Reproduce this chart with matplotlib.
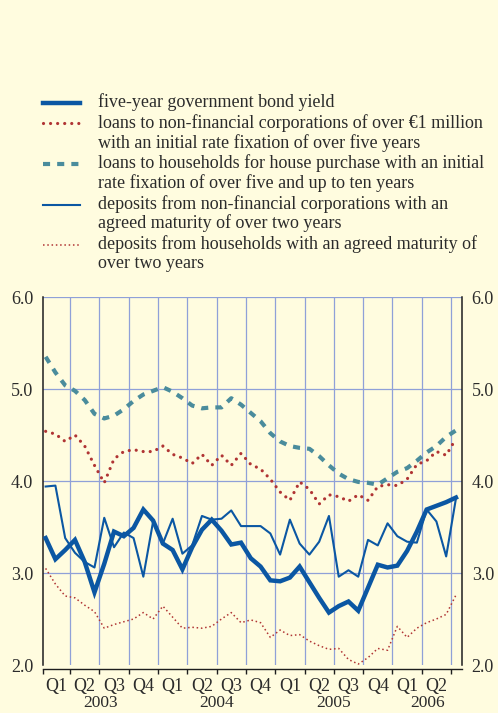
import numpy as np
import matplotlib.pyplot as plt
from matplotlib.transforms import blended_transform_factory

plt.rcParams['font.family'] = ['Liberation Serif', 'DejaVu Serif']
plt.rcParams['font.size'] = 13
plt.rcParams['text.color'] = '#2b2b2b'

# Monatswerte Jan 2003 .. Jul 2006
bond_yield = [3.38, 3.15, 3.25, 3.36, 3.12, 2.79, 3.10, 3.45, 3.40, 3.49, 3.69, 3.57,
              3.32, 3.25, 3.04, 3.28, 3.47, 3.58, 3.46, 3.31, 3.33, 3.16, 3.07, 2.92,
              2.91, 2.95, 3.07, 2.90, 2.73, 2.57, 2.64, 2.69, 2.59, 2.84, 3.09, 3.06,
              3.08, 3.24, 3.45, 3.69, 3.73, 3.77, 3.82]
loans_nfc = [4.54, 4.51, 4.43, 4.50, 4.38, 4.17, 3.98, 4.24, 4.32, 4.34, 4.32, 4.32,
             4.38, 4.29, 4.25, 4.19, 4.29, 4.17, 4.28, 4.17, 4.30, 4.18, 4.13, 4.02,
             3.88, 3.79, 3.99, 3.91, 3.75, 3.85, 3.83, 3.78, 3.85, 3.79, 3.94, 3.96,
             3.95, 4.02, 4.18, 4.22, 4.32, 4.28, 4.46]
loans_hh = [5.35, 5.18, 5.04, 4.98, 4.88, 4.73, 4.68, 4.71, 4.78, 4.87, 4.94, 4.98,
            5.02, 4.97, 4.90, 4.82, 4.79, 4.80, 4.80, 4.90, 4.83, 4.74, 4.65, 4.52,
            4.43, 4.38, 4.36, 4.35, 4.27, 4.17, 4.08, 4.02, 3.99, 3.98, 3.96, 4.03,
            4.10, 4.14, 4.22, 4.31, 4.38, 4.48, 4.55]
deposits_nfc = [3.94, 3.95, 3.38, 3.22, 3.12, 3.06, 3.60, 3.28, 3.44, 3.38, 2.96, 3.56,
                3.32, 3.59, 3.21, 3.30, 3.62, 3.58, 3.59, 3.68, 3.51, 3.51, 3.51, 3.43,
                3.20, 3.58, 3.32, 3.20, 3.34, 3.62, 2.96, 3.03, 2.96, 3.36, 3.30, 3.54,
                3.40, 3.34, 3.33, 3.69, 3.56, 3.18, 3.81]
deposits_hh = [3.05, 2.88, 2.75, 2.73, 2.65, 2.58, 2.40, 2.44, 2.47, 2.50, 2.57, 2.50,
               2.64, 2.52, 2.40, 2.41, 2.40, 2.42, 2.50, 2.57, 2.46, 2.49, 2.46, 2.30,
               2.38, 2.32, 2.33, 2.26, 2.21, 2.17, 2.18, 2.06, 2.01, 2.08, 2.18, 2.16,
               2.42, 2.30, 2.40, 2.46, 2.50, 2.55, 2.76]

years = ['2003', '2004', '2005', '2006']
quarters = ['Q1', 'Q2', 'Q3', 'Q4']
y_ticks = [2.0, 3.0, 4.0, 5.0, 6.0]

legend_texts = [
    ["five-year government bond yield"],
    ["loans to non-financial corporations of over €1 million",
     "with an initial rate fixation of over five years"],
    ["loans to households for house purchase with an initial",
     "rate fixation of over five and up to ten years"],
    ["deposits from non-financial corporations with an",
     "agreed maturity of over two years"],
    ["deposits from households with an agreed maturity of",
     "over two years"],
]

bg = '#fffcdf'
blue = '#0b57a3'
red = '#b03434'
teal = '#4a8c9c'
grid_c = '#8fa0d8'
dark = '#1e1e1e'

styles = [
    dict(color=blue, lw=3.2, ls='-', solid_joinstyle='miter'),
    dict(color=red, lw=2.3, ls=(0, (0.01, 2.2)), dash_capstyle='round'),
    dict(color=teal, lw=3.0, ls=(0, (1.7, 1.7)), dash_capstyle='butt'),
    dict(color=blue, lw=1.5, ls='-'),
    dict(color=red, lw=1.1, ls=(0, (1, 1.8)), dash_capstyle='butt'),
]

fig = plt.figure(figsize=(4.98, 7.13), dpi=100, facecolor=bg)
W, H = 498, 713
ax = fig.add_axes([43 / W, 48 / H, (462 - 43) / W, (665 - 297) / H])
ax.set_facecolor(bg)

x = np.arange(len(bond_yield))
x0, x1 = -0.27, 42.62
ax.set_xlim(x0, x1)
ax.set_ylim(2.0, 6.0)

# Gitter
bounds = np.arange(2.5, 42, 3)
for b in bounds:
    ax.axvline(b, color=grid_c, lw=0.9, zorder=1)
for yv in y_ticks[1:]:
    ax.axhline(yv, color=grid_c, lw=0.9, zorder=1)

series = [bond_yield, loans_nfc, loans_hh, deposits_nfc, deposits_hh]
zorders = [6, 4, 3, 5, 2]
for s, st, z in zip(series, styles, zorders):
    ax.plot(x, s, zorder=z, **st)

# Achsen
for side in ['left', 'right']:
    ax.spines[side].set_color(dark)
    ax.spines[side].set_linewidth(1.1)
ax.spines['top'].set_visible(False)
ax.spines['bottom'].set_position(('outward', 3))
ax.spines['bottom'].set_color(dark)
ax.spines['bottom'].set_linewidth(1.0)

ax.set_yticks(y_ticks)
ax.set_yticklabels([f'{v:.1f}' for v in y_ticks])
ax.tick_params(axis='y', length=0, pad=7, labelright=True, labelcolor='#2b2b2b')

ax.set_xticks([x0] + list(bounds))
ax.set_xticklabels([])
ax.tick_params(axis='x', which='major', direction='out', length=3.5, width=1.0, color=dark)

q_pos, q_lab = [], []
for k in range(len(years) * 4):
    a, b = -0.5 + 3 * k, 2.5 + 3 * k
    lo, hi = max(a, x0), min(b, x1)
    if hi - lo > 2:
        q_pos.append((lo + hi) / 2)
        q_lab.append(quarters[k % 4])
ax.set_xticks(q_pos, minor=True)
ax.set_xticklabels(q_lab, minor=True)
ax.tick_params(axis='x', which='minor', length=0, pad=6.0, labelcolor='#2b2b2b')

trans = blended_transform_factory(ax.transData, ax.transAxes)
for j, yr in enumerate(years):
    lo, hi = max(-0.5 + 12 * j, x0), min(11.5 + 12 * j, x1)
    ax.text((lo + hi) / 2, -0.126, yr, transform=trans, ha='center', va='bottom',
            fontsize=12.5)

# Legende oben
lax = fig.add_axes([0, 0, 1, 1])
lax.set_xlim(0, W)
lax.set_ylim(H, 0)
lax.axis('off')
lax.patch.set_alpha(0)

handle_y = [102.7, 123.3, 164.3, 205, 245]
base_y = [[107], [127.5, 147.5], [168.5, 188], [209, 228.5], [249, 268]]
for st, hy, lines, bys in zip(styles, handle_y, legend_texts, base_y):
    lax.plot([43, 80], [hy, hy], **st)
    for t, by in zip(lines, bys):
        lax.text(98, by, t, ha='left', va='baseline')

fig.savefig('out.png', dpi=100, facecolor=bg)
